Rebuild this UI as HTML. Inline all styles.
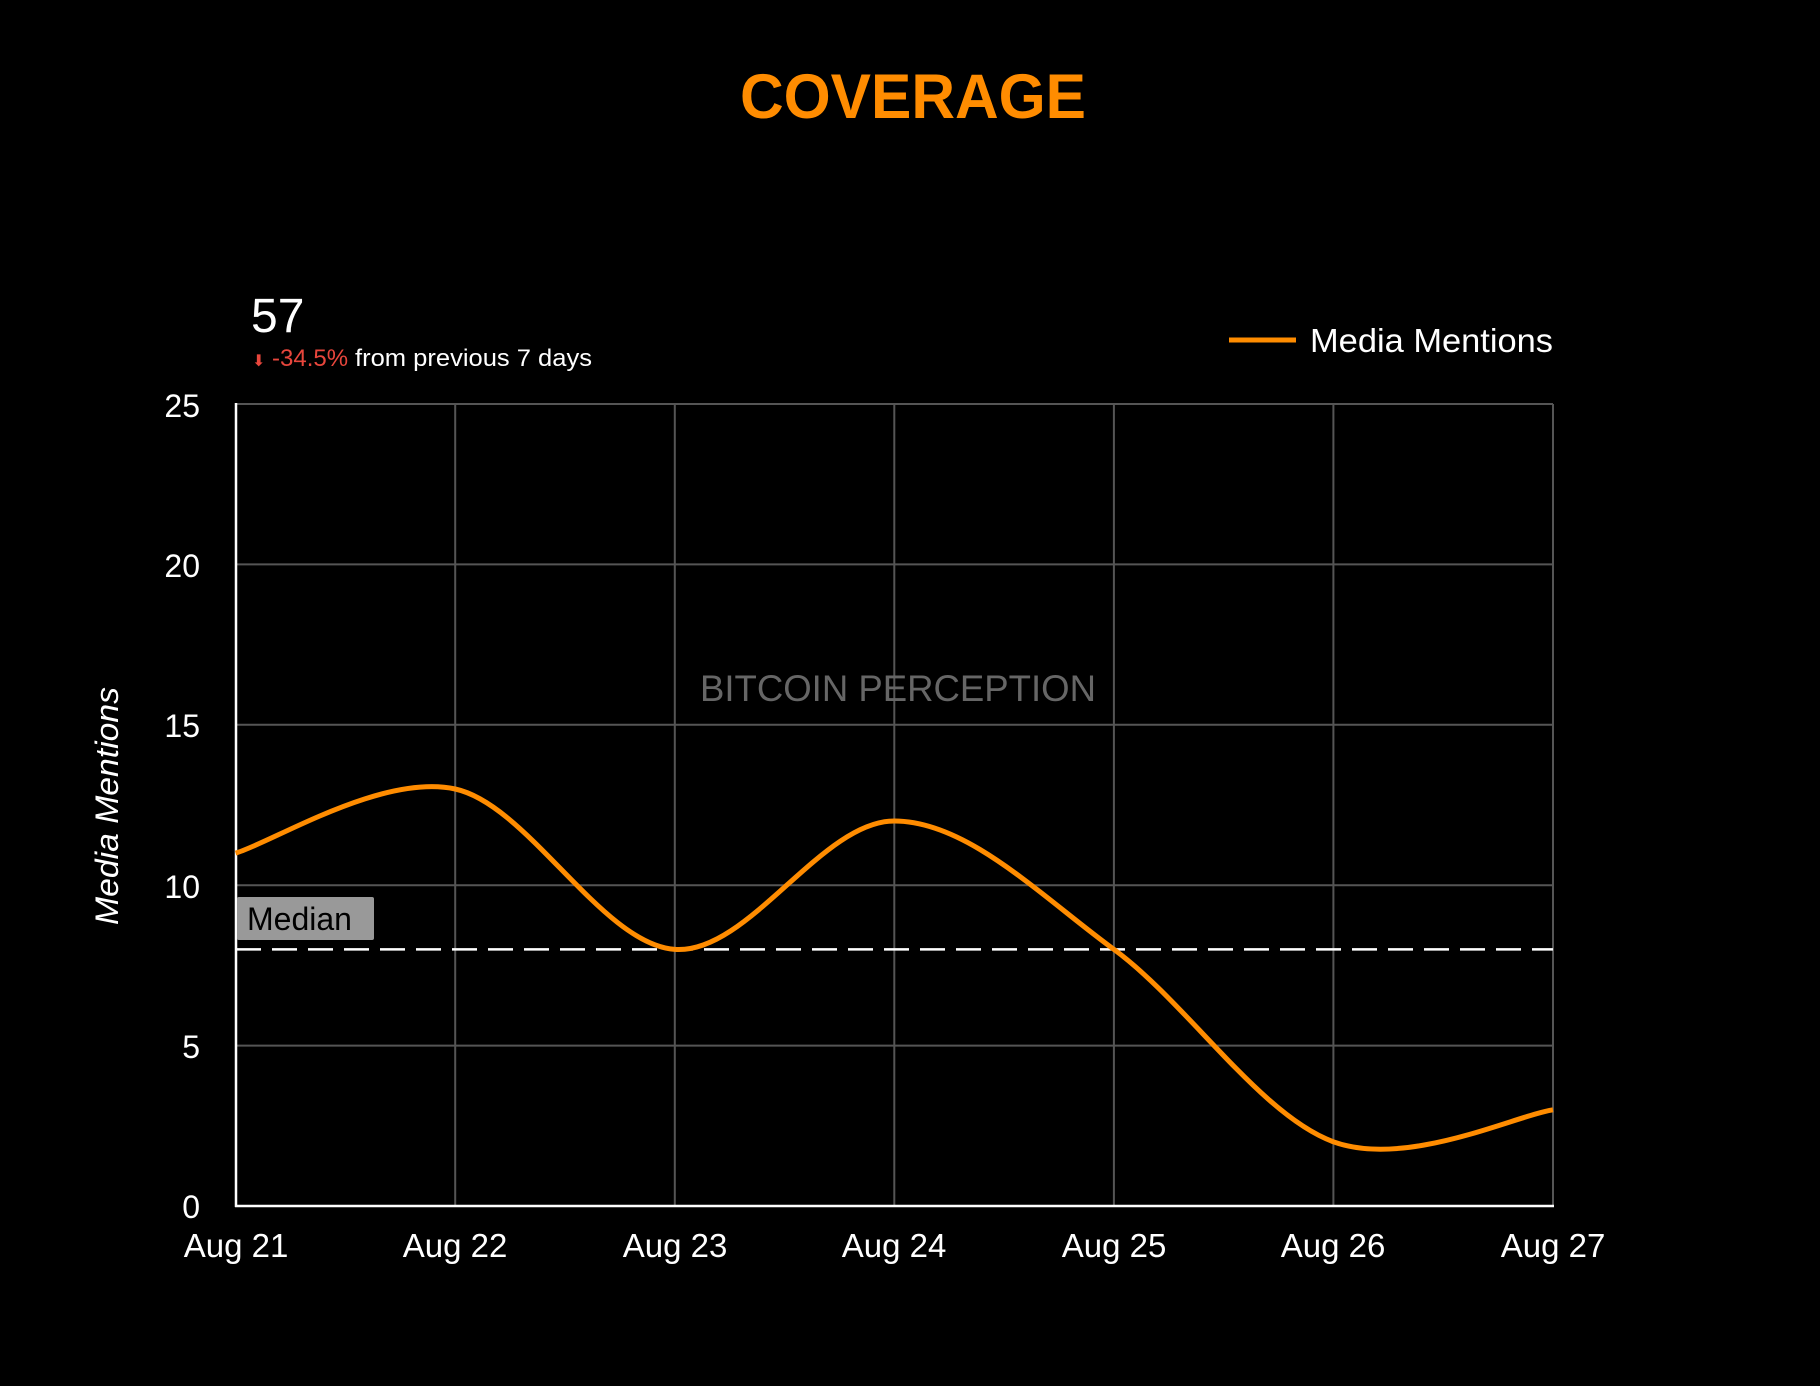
<!DOCTYPE html>
<html><head><meta charset="utf-8"><style>
html,body{margin:0;padding:0;background:#000;}
svg{display:block;font-family:"Liberation Sans",sans-serif;}
</style></head><body>
<svg width="1820" height="1386" viewBox="0 0 1820 1386" xmlns="http://www.w3.org/2000/svg">
<rect width="1820" height="1386" fill="#000"/>
<text x="913" y="118" text-anchor="middle" font-size="63" font-weight="bold" fill="#ff8c00" textLength="346" lengthAdjust="spacingAndGlyphs">COVERAGE</text>
<text x="251" y="332" font-size="48" fill="#fff">57</text>
<text x="252" y="366" font-size="16" fill="#e8463c">&#11015;</text>
<text x="272" y="366" font-size="24" fill="#e8463c">-34.5%</text>
<text x="355" y="366" font-size="24" fill="#fff" textLength="237" lengthAdjust="spacingAndGlyphs">from previous 7 days</text>
<line x1="1229" y1="340" x2="1296" y2="340" stroke="#ff8c00" stroke-width="5"/>
<text x="1310" y="352" font-size="33" fill="#fff" textLength="243" lengthAdjust="spacingAndGlyphs">Media Mentions</text>
<g stroke="#555" stroke-width="2">
<line x1="236" y1="404" x2="1553" y2="404"/>
<line x1="236" y1="564.4" x2="1553" y2="564.4"/>
<line x1="236" y1="724.8" x2="1553" y2="724.8"/>
<line x1="236" y1="885.2" x2="1553" y2="885.2"/>
<line x1="236" y1="1045.6" x2="1553" y2="1045.6"/>
<line x1="455.2" y1="404" x2="455.2" y2="1206"/>
<line x1="674.8" y1="404" x2="674.8" y2="1206"/>
<line x1="894.3" y1="404" x2="894.3" y2="1206"/>
<line x1="1113.9" y1="404" x2="1113.9" y2="1206"/>
<line x1="1333.4" y1="404" x2="1333.4" y2="1206"/>
<line x1="1553" y1="404" x2="1553" y2="1206"/>
</g>
<line x1="236" y1="403" x2="236" y2="1207" stroke="#fff" stroke-width="2.5"/>
<line x1="235" y1="1206" x2="1554" y2="1206" stroke="#fff" stroke-width="2.5"/>
<text x="898" y="701" text-anchor="middle" font-size="37" fill="#666" textLength="396" lengthAdjust="spacingAndGlyphs">BITCOIN PERCEPTION</text>
<line x1="236" y1="949.4" x2="1553" y2="949.4" stroke="#fff" stroke-width="2.5" stroke-dasharray="25 11"/>
<rect x="237" y="897" width="137" height="43" fill="#999" rx="2"/>
<text x="247" y="930" font-size="32" fill="#000">Median</text>
<path d="M235.6,853.1 C272.2,842.4 382.0,773.0 455.2,789.0 C528.4,805.0 601.6,944.1 674.8,949.4 C748.0,954.7 821.1,821 894.3,821 C967.5,821 1040.7,895.9 1113.9,949.4 C1187.1,1002.9 1260.2,1115.1 1333.4,1141.8 C1406.6,1168.5 1516.4,1115.1 1553,1109.8" fill="none" stroke="#ff8c00" stroke-width="5"/>
<g font-size="32" fill="#fff" text-anchor="end">
<text x="200" y="417">25</text>
<text x="200" y="577">20</text>
<text x="200" y="737">15</text>
<text x="200" y="898">10</text>
<text x="200" y="1058">5</text>
<text x="200" y="1218">0</text>
</g>
<g font-size="33" fill="#fff" text-anchor="middle">
<text x="236" y="1257">Aug 21</text>
<text x="455" y="1257">Aug 22</text>
<text x="675" y="1257">Aug 23</text>
<text x="894" y="1257">Aug 24</text>
<text x="1114" y="1257">Aug 25</text>
<text x="1333" y="1257">Aug 26</text>
<text x="1553" y="1257">Aug 27</text>
</g>
<text transform="translate(118,806) rotate(-90)" text-anchor="middle" font-size="32" font-style="italic" fill="#fff" textLength="238" lengthAdjust="spacingAndGlyphs">Media Mentions</text>
</svg>
</body></html>
